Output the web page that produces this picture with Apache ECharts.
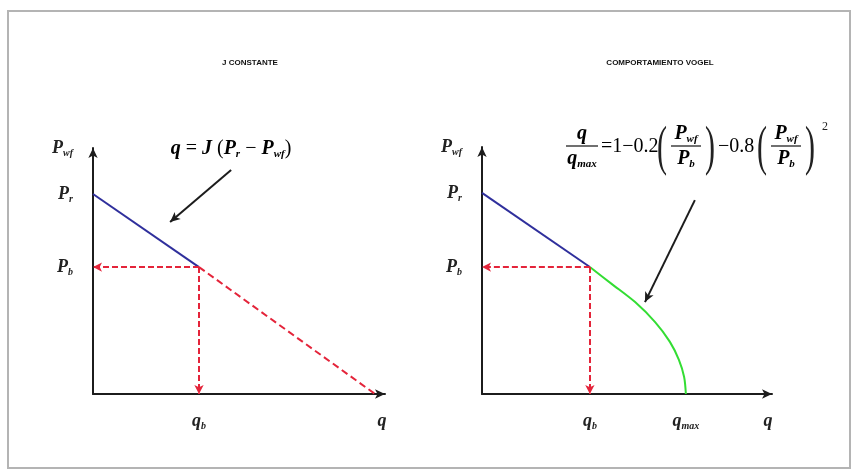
<!DOCTYPE html>
<html>
<head>
<meta charset="utf-8">
<script src="https://cdn.jsdelivr.net/npm/echarts@6/dist/echarts.min.js"></script>
<style>
  html, body { margin: 0; padding: 0; background: #fff; }
  #chart { width: 854px; height: 475px; }
</style>
</head>
<body>
<div id="chart"></div>
<script>
// ---- Inflow performance data (relative units, axes run 0..100) ----
// J constante: straight IPR and its dashed extension
const constJLine = [[0, 81.3], [36.3, 51.6]];
const constJExtension = [[36.3, 51.6], [96.6, 0]];
const constJBubble = [36.3, 51.6];        // (qb, Pb)
const constJPointer = [[47.3, 91.1], [26.4, 69.9]];

// Vogel: straight part above Pb, curved part below
const vogelLine = [[0, 81.4], [37.2, 51.4]];
const vogelCurve = [[37.2, 51.4], [44.8, 44.5], [52.8, 37.2], [59.7, 29.1],
                    [64.8, 21.1], [67.9, 13.8], [69.7, 6.9], [70.3, 0]];
const vogelBubble = [37.2, 51.4];         // (qb, Pb)
const vogelPointer = [[73.4, 78.5], [56.2, 37.2]];

// Tick positions and their labels
const leftYTicks = [51.6, 81.3, 100];
const leftYLabels = ['{i|P}{s|b}', '{i|P}{s|r}', '{i|P}{s|wf}'];
const leftXTicks = [36.3, 99];
const leftXLabels = ['{i|q}{s|b}', '{i|q}'];
const rightYTicks = [51.4, 81.4, 100];
const rightYLabels = ['{i|P}{s|b}', '{i|P}{s|r}', '{i|P}{s|wf}'];
const rightXTicks = [37.2, 70.3, 98.6];
const rightXLabels = ['{i|q}{s|b}', '{i|q}{s|max}', '{i|q}'];

const titles = ['J CONSTANTE', 'COMPORTAMIENTO VOGEL'];

const SERIF = "'Liberation Serif', 'Times New Roman', serif";
const INK = '#222';
function mathRich(size) {
  return {
    i: { fontFamily: SERIF, fontStyle: 'italic', fontWeight: 'bold', fontSize: size, color: INK, lineHeight: size + 2 },
    n: { fontFamily: SERIF, fontSize: size, color: INK, lineHeight: size + 2 },
    s: { fontFamily: SERIF, fontStyle: 'italic', fontWeight: 'bold', fontSize: Math.round(size * 0.56), color: INK,
         lineHeight: Math.round(size * 0.56), verticalAlign: 'bottom' }
  };
}
const richAxis = mathRich(18);
const richEq = mathRich(20);

function labelFor(ticks, labels) {
  return function (v) {
    for (let k = 0; k < ticks.length; k++) {
      if (Math.abs(ticks[k] - v) < 1e-6) return labels[k];
    }
    return '';
  };
}

function axisBase(ticks, labels, isY) {
  return {
    type: 'value', min: 0, max: 100,
    splitLine: { show: false },
    axisTick: { show: false },
    axisLine: {
      show: true, onZero: false,
      symbol: ['none', 'arrow'], symbolSize: [7, 10],
      lineStyle: { color: '#1c1c1c', width: 2 }
    },
    axisLabel: {
      customValues: ticks,
      formatter: labelFor(ticks, labels),
      margin: isY ? 20 : 17,
      rich: richAxis
    }
  };
}

const RED = '#e4243a';
const guideStyle = { color: RED, width: 2, type: [6, 3] };

function guides(pt) {
  return {
    silent: true, symbol: ['none', 'arrow'], symbolSize: [7, 9],
    label: { show: false }, lineStyle: guideStyle,
    data: [
      [{ coord: pt }, { coord: [0, pt[1]] }],
      [{ coord: pt }, { coord: [pt[0], 0] }]
    ]
  };
}

function pointer(seg) {
  return {
    silent: true, symbol: ['none', 'arrow'], symbolSize: [7, 10],
    label: { show: false },
    lineStyle: { color: '#1c1c1c', width: 2, type: 'solid' },
    data: [[{ coord: seg[0] }, { coord: seg[1] }]]
  };
}

// helpers for the typeset Vogel relation
function eqText(x, y, text) {
  return { type: 'text', x: x, y: y, style: { text: text, rich: richEq, align: 'center', verticalAlign: 'middle' } };
}
function eqBar(x1, x2, y) {
  return { type: 'line', shape: { x1: x1, y1: y, x2: x2, y2: y }, style: { stroke: INK, lineWidth: 1.3 } };
}
function eqParen(x, y, ch) {
  // tall, slim bracket: scaled about its own anchor point
  return { type: 'text', x: x, y: y, scaleY: 1.8,
           style: { text: ch, font: '30px ' + SERIF, fill: INK, align: 'center', verticalAlign: 'middle' } };
}
function eqFrac(cx, top, bottom, halfWidth) {
  return [eqText(cx, 134, top), eqBar(cx - halfWidth, cx + halfWidth, 146), eqText(cx, 159, bottom)];
}

const chart = echarts.init(document.getElementById('chart'), null, { renderer: 'canvas' });

const titleStyle = { fontFamily: "'Liberation Sans', Arial, sans-serif", fontWeight: 'bold', fontSize: 8, color: '#111' };

const option = {
  backgroundColor: '#fff',
  animation: false,
  title: [
    { text: titles[0], left: 245, top: 54, textAlign: 'center', textStyle: titleStyle },
    { text: titles[1], left: 655, top: 54, textAlign: 'center', textStyle: titleStyle }
  ],
  grid: [
    { left: 93, top: 148, width: 292, height: 246 },
    { left: 482, top: 147, width: 290, height: 247 }
  ],
  xAxis: [
    Object.assign(axisBase(leftXTicks, leftXLabels, false), { gridIndex: 0 }),
    Object.assign(axisBase(rightXTicks, rightXLabels, false), { gridIndex: 1 })
  ],
  yAxis: [
    Object.assign(axisBase(leftYTicks, leftYLabels, true), { gridIndex: 0 }),
    Object.assign(axisBase(rightYTicks, rightYLabels, true), { gridIndex: 1 })
  ],
  series: [
    { type: 'line', xAxisIndex: 0, yAxisIndex: 0, data: constJExtension, showSymbol: false,
      lineStyle: { color: RED, width: 2, type: [7, 4] }, z: 2 },
    { type: 'line', xAxisIndex: 0, yAxisIndex: 0, data: constJLine, showSymbol: false,
      lineStyle: { color: '#2f2f9c', width: 2 }, markLine: guides(constJBubble), z: 3 },
    { type: 'line', xAxisIndex: 0, yAxisIndex: 0, data: [], markLine: pointer(constJPointer) },
    { type: 'line', xAxisIndex: 1, yAxisIndex: 1, data: vogelLine, showSymbol: false,
      lineStyle: { color: '#2f2f9c', width: 2 }, markLine: guides(vogelBubble), z: 3 },
    { type: 'line', xAxisIndex: 1, yAxisIndex: 1, data: vogelCurve, showSymbol: false, smooth: 0.3,
      lineStyle: { color: '#33dd33', width: 2 }, z: 3 },
    { type: 'line', xAxisIndex: 1, yAxisIndex: 1, data: [], markLine: pointer(vogelPointer) }
  ],
  graphic: [
    // frame
    { type: 'rect', shape: { x: 8, y: 11, width: 842, height: 457 },
      style: { fill: 'none', stroke: '#b4b4b4', lineWidth: 2 }, silent: true },
    // q = J (Pr - Pwf)
    { type: 'text', x: 231, y: 149,
      style: { text: '{i|q}{n| = }{i|J}{n| (}{i|P}{s|r}{n| − }{i|P}{s|wf}{n|)}', rich: richEq,
               align: 'center', verticalAlign: 'middle' } },
    // Vogel relation: q/qmax = 1 - 0.2 (Pwf/Pb) - 0.8 (Pwf/Pb)^2
    { type: 'group', children: [].concat(
      eqFrac(582, '{i|q}', '{i|q}{s|max}', 16),
      [ { type: 'text', x: 601, y: 147, style: { text: '{n|=1−0.2}', rich: richEq, align: 'left', verticalAlign: 'middle' } },
        eqParen(662, 150, '(') ],
      eqFrac(686, '{i|P}{s|wf}', '{i|P}{s|b}', 15),
      [ eqParen(710, 150, ')'),
        { type: 'text', x: 718, y: 147, style: { text: '{n|−0.8}', rich: richEq, align: 'left', verticalAlign: 'middle' } },
        eqParen(762, 150, '(') ],
      eqFrac(786, '{i|P}{s|wf}', '{i|P}{s|b}', 15),
      [ eqParen(810, 150, ')'),
        { type: 'text', x: 825, y: 127, style: { text: '2', font: '12px ' + SERIF, fill: INK, align: 'center', verticalAlign: 'middle' } } ]
    ) }
  ]
};

chart.setOption(option);
</script>
</body>
</html>
